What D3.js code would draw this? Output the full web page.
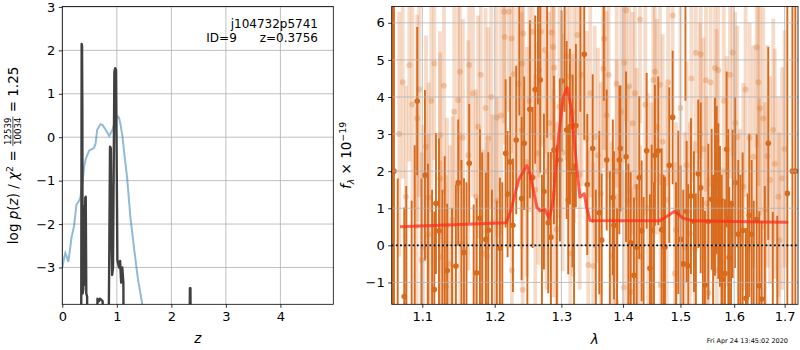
<!DOCTYPE html>
<html>
<head>
<meta charset="utf-8">
<script src="https://cdn.jsdelivr.net/npm/d3@7"></script>
<style>
  body { margin: 0; background: #fff; }
  text { font-family: "DejaVu Sans", sans-serif; }
</style>
</head>
<body>
<div id="chart"></div>
<script>
//==============================================================================
// left panel: log p(z) (dark) and scaled chi2 (blue)

const pz_z    = [0.30, 0.345, 0.355, 0.362, 0.368, 0.372, 0.385, 0.395, 0.405, 0.42, 0.43, 0.44, 0.455, 0.465,
                 0.63, 0.645, 0.67, 0.69, 0.72, 0.74, 0.76,
                 0.84, 0.86, 0.875, 0.89, 0.905, 0.915, 0.93, 0.955, 0.97, 0.985, 1.0, 1.01, 1.04, 1.06, 1.08, 1.10, 1.12, 1.13,
                 2.33, 2.34, 2.35, 2.36];
const pz_logp = [-6, -6, 2.15, 2.1, 0.6, -3.6, -3.5, -1.6, -3.4, -1.4, -1.37, -3.6, -3.67, -6,
                 -6, -3.72, -3.78, -3.72, -3.75, -3.78, -6,
                 -6, -2.94, -0.22, -0.25, -2.5, -3.17, -3.0, 1.5, 1.59, 1.55, -1.0, -2.83, -3.0, -2.85, -3.35, -3.0, -3.35, -6,
                 -6, -3.48, -3.48, -6];

const chi_z   = [0.0, 0.03, 0.055, 0.08, 0.11, 0.14, 0.17, 0.215, 0.26, 0.30, 0.33, 0.37, 0.40, 0.43, 0.49, 0.55, 0.58,
                 0.61, 0.64, 0.70, 0.74, 0.78, 0.82, 0.86, 0.92, 0.97, 1.01, 1.04, 1.07, 1.10, 1.13, 1.19, 1.25, 1.32,
                 1.39, 1.46, 1.50];
const chi_val = [-3.0, -2.8, -2.67, -2.75, -2.87, -2.6, -2.3, -2.05, -1.55, -1.48, -1.4, -1.05, -0.68, -0.5, -0.31, -0.27, -0.25,
                 -0.15, 0.17, 0.3, 0.28, 0.2, 0.12, 0.03, 0.17, 0.38, 0.49, 0.45, 0.28, 0.05, -0.3, -0.95, -1.85, -2.6,
                 -3.29, -3.79, -4.2];

const pz_xticks = [0, 1, 2, 3, 4];
const pz_yticks = [-3, -2, -1, 0, 1, 2, 3];

const obj_name = "j104732p5741";
const obj_id = 9;
const obj_z = "0.3756";

//==============================================================================
// right panel: spectrum, dark points (with markers) and light points

const dark_wave = [1.0615, 1.0632, 1.0680, 1.0764, 1.0790, 1.0860, 1.0900, 1.0933, 1.0990, 1.1035, 1.1075, 1.1130, 1.1160,
  1.1182, 1.1223, 1.1270, 1.1300, 1.1334, 1.1400, 1.1453, 1.1485, 1.1530, 1.1565, 1.1600, 1.1638, 1.1700, 1.1742, 1.1789,
  1.1820, 1.1874, 1.1907, 1.1960, 1.2030, 1.2075, 1.2110, 1.2158, 1.2187, 1.2225, 1.2265, 1.2314, 1.2360, 1.2394, 1.2432,
  1.2480, 1.2518, 1.2559, 1.2598, 1.2640, 1.2675, 1.2700, 1.2731, 1.2780, 1.2797, 1.2838, 1.2885, 1.2930, 1.2978, 1.3004,
  1.3050, 1.3083, 1.3108, 1.3135, 1.3177, 1.3200, 1.3229, 1.3300, 1.3363, 1.3411, 1.3499, 1.3550, 1.3606, 1.3645, 1.3680,
  1.3728, 1.3780, 1.3829, 1.3849, 1.3900, 1.3938, 1.3957, 1.4050, 1.4090, 1.4129, 1.4185, 1.4231, 1.4276, 1.4317, 1.4350,
  1.4403, 1.4460, 1.4490, 1.4530, 1.4547, 1.4605, 1.4665, 1.4700, 1.4723, 1.4800, 1.4860, 1.4920, 1.4961, 1.5003, 1.5051,
  1.5090, 1.5112, 1.5141, 1.5190, 1.5245, 1.5280, 1.5324, 1.5369, 1.5410, 1.5448, 1.5510, 1.5573, 1.5600, 1.5635, 1.5667,
  1.5698, 1.5729, 1.5760, 1.5780, 1.5824, 1.5856, 1.5887, 1.5906, 1.5940, 1.5971, 1.6015, 1.6079, 1.6120, 1.6164, 1.6228,
  1.6260, 1.6293, 1.6340, 1.6380, 1.6438, 1.6490, 1.6537, 1.6600, 1.6669, 1.6760, 1.6850, 1.7055, 1.7159, 1.7220];
const dark_flux = [2.0, 2.0, -2.4, -1.38, -2.0, -2.6, -1.9, 3.89, -2.2, 1.89, -2.8, -1.9, -1.19,
  1.13, 0.39, -2.3, -2.0, -0.68, -2.5, -0.56, 1.69, -1.8, -0.19, -2.6, 2.21, -2.2, -0.74, 0.73,
  -2.0, 0.16, 0.41, -2.4, -1.9, -0.08, -2.7, 2.48, 1.38, 2.25, 0.54, 2.84, 6.9, 1.26, 2.75,
  -2.1, 3.67, 1.83, 4.2, 7.0, 4.46, -2.3, 1.45, 6.8, 0.61, 0.22, 2.57, -2.0, 2.3, 4.43,
  7.2, 3.11, 1.22, 3.2, 2.0, -2.1, 3.23, 6.9, 5.15, 1.64, 2.61, -2.2, 0.88, 0.14, 6.8,
  2.3, -2.0, 1.29, 0.54, -2.5, 2.3, 2.61, 2.39, -2.1, 0.07, -0.81, -0.05, 1.83, 0.39, -2.6,
  2.55, -0.62, 0.41, -1.9, 2.43, 2.55, 0.42, -2.3, -0.05, 2.16, 3.45, -2.0, 0.89, 0.16, -0.5,
  6.7, 0.91, -0.55, 1.33, 0.64, -2.4, 1.93, 1.55, -2.1, -1.07, 0.64, 1.24, -2.6, 1.58, 1.76,
  1.19, 0.78, -2.0, -0.93, -0.76, 2.59, 0.73, -0.33, -2.3, 1.12, 1.69, 0.3, -2.2, 0.4, -1.43,
  -1.9, 0.81, 0.3, -2.5, 0.7, -1.09, -1.45, -2.0, 2.75, -2.1, -1.8, 1.4, 2.0, 2.0];
const dark_err = [30, 30, 4.2, 2.4, 3.6, 3.8, 4.6, 2.0, 4.0, 2.3, 5.0, 3.4, 2.1,
  1.9, 2.5, 3.8, 4.4, 1.8, 3.5, 2.2, 1.7, 4.1, 2.0, 4.3, 1.6, 3.3, 2.0, 2.4,
  4.5, 1.8, 2.1, 3.9, 3.1, 1.9, 4.4, 2.0, 1.7, 2.3, 1.8, 2.0, 3.4, 2.2, 1.8,
  4.1, 2.4, 1.9, 2.0, 3.2, 2.5, 4.2, 2.1, 3.9, 1.9, 2.3, 2.0, 4.7, 2.2, 1.9,
  3.6, 2.4, 2.0, 2.1, 2.6, 4.3, 2.2, 3.3, 2.3, 1.9, 2.0, 3.7, 2.2, 1.8, 2.9,
  1.9, 4.0, 2.1, 2.0, 3.5, 2.0, 1.7, 2.3, 4.3, 1.9, 2.1, 1.7, 2.2, 1.9, 3.9,
  2.1, 2.0, 2.3, 3.6, 1.9, 2.0, 2.2, 4.2, 1.9, 2.1, 1.8, 3.7, 2.2, 2.0, 2.0,
  2.8, 1.9, 2.2, 2.1, 1.9, 3.8, 2.0, 2.3, 3.4, 2.0, 2.1, 1.9, 4.5, 2.4, 2.0,
  2.1, 1.9, 3.9, 2.2, 2.0, 2.1, 2.4, 1.9, 3.5, 2.0, 2.3, 2.0, 4.1, 2.1, 1.9,
  3.3, 2.2, 2.0, 3.7, 2.3, 2.0, 2.1, 3.6, 2.6, 3.0, 2.6, 30, 30, 30];

const light_wave = [1.0700, 1.0745, 1.0786, 1.0829, 1.0870, 1.0925, 1.0933, 1.0960, 1.0991, 1.1012, 1.1049, 1.1080, 1.1085,
  1.1120, 1.1160, 1.1236, 1.1240, 1.1245, 1.1290, 1.1317, 1.1330, 1.1371, 1.1408, 1.1430, 1.1485, 1.1509, 1.1512, 1.1550,
  1.1624, 1.1638, 1.1690, 1.1732, 1.1763, 1.1800, 1.1836, 1.1869, 1.1892, 1.1907, 1.1950, 1.1970, 1.2028, 1.2030, 1.2090,
  1.2137, 1.2145, 1.2206, 1.2245, 1.2250, 1.2279, 1.2342, 1.2394, 1.2403, 1.2409, 1.2418, 1.2473, 1.2510, 1.2559, 1.2600,
  1.2644, 1.2659, 1.2685, 1.2746, 1.2772, 1.2810, 1.2849, 1.2873, 1.2880, 1.2889, 1.2927, 1.2968, 1.3020, 1.3083, 1.3135,
  1.3140, 1.3177, 1.3200, 1.3251, 1.3290, 1.3321, 1.3401, 1.3427, 1.3460, 1.3508, 1.3532, 1.3584, 1.3630, 1.3671, 1.3687,
  1.3728, 1.3760, 1.3812, 1.3882, 1.3893, 1.3895, 1.3970, 1.4014, 1.4019, 1.4048, 1.4080, 1.4103, 1.4134, 1.4162, 1.4200,
  1.4231, 1.4288, 1.4290, 1.4380, 1.4430, 1.4490, 1.4518, 1.4547, 1.4580, 1.4635, 1.4647, 1.4683, 1.4753, 1.4780, 1.4860,
  1.4900, 1.4920, 1.5000, 1.5081, 1.5112, 1.5172, 1.5200, 1.5262, 1.5280, 1.5356, 1.5369, 1.5420, 1.5467, 1.5480, 1.5510,
  1.5554, 1.5635, 1.5667, 1.5670, 1.5698, 1.5761, 1.5800, 1.5856, 1.5920, 1.5971, 1.6020, 1.6059, 1.6111, 1.6176, 1.6220,
  1.6300, 1.6371, 1.6438, 1.6470, 1.6491, 1.6503, 1.6569, 1.6602, 1.6650, 1.6702, 1.6769, 1.6800, 1.6871, 1.6890, 1.6950,
  1.7000];
const light_flux = [3.0, 4.4, 1.31, 4.86, 3.8, 0.52, 3.42, 4.2, -0.4, -0.05, 2.66, 0.3, 1.29,
  3.9, 4.9, 2.97, 1.8, -0.31, 4.3, -1.11, 0.54, -0.5, 0.68, 3.6, 3.92, 4.68, 0.05, 2.9,
  2.43, 4.86, 4.1, 1.31, 3.2, 4.6, -0.22, 3.7, -0.3, 2.88, 4.0, 0.63, 3.44, 1.2, 3.5,
  6.3, 5.62, 6.3, 5.58, -0.67, 4.62, 4.36, 3.1, 4.9, -1.2, 5.71, 2.25, 3.9, 5.76, 1.5,
  2.48, 4.73, 5.76, 5.27, 2.0, 3.3, 5.74, 5.35, 1.4, 4.79, 0.43, 3.74, 2.5, 5.1, 4.55,
  -0.22, 2.16, 3.6, 5.67, 1.9, 4.6, 2.88, -0.53, 4.1, -0.56, 2.92, 2.43, 1.4, 4.77, 5.57,
  3.51, 4.6, -0.3, -1.52, 4.36, 2.0, 3.6, -1.13, 4.92, 6.34, 1.2, 4.29, -1.25, 3.29, 4.1,
  1.58, 6.09, -0.31, 3.8, 1.0, 0.95, 4.46, 4.68, 3.2, 4.33, -1.07, 2.79, 1.23, 4.4, 6.2,
  -0.76, 0.42, 3.7, -0.05, 2.16, 0.32, 4.5, -0.1, 5.19, 3.0, 5.15, 2.6, 4.45, 1.13, -1.28,
  4.39, 4.78, 2.83, -0.67, 4.72, -0.9, 3.9, 2.0, 4.6, 5.2, 3.3, 2.92, 0.23, 1.58, 4.2,
  2.9, 2.39, 5.34, 4.4, 0.86, 3.69, 3.42, 0.96, 2.4, 1.76, 3.11, 2.2, 1.31, 0.14, 1.8,
  2.6];
const light_err = [3.3, 2.6, 3.0, 2.6, 2.8, 3.2, 2.8, 2.9, 2.9, 3.3, 3.0, 2.7, 3.1,
  3.0, 2.6, 2.8, 3.4, 2.6, 2.9, 3.0, 2.9, 3.2, 2.8, 3.1, 2.5, 2.7, 3.0, 3.2,
  3.1, 2.6, 2.8, 2.9, 3.0, 2.7, 2.8, 2.7, 3.1, 3.0, 3.0, 2.9, 3.2, 2.8, 3.2,
  3.0, 2.9, 2.7, 3.1, 2.8, 3.0, 2.8, 3.2, 2.9, 3.0, 2.6, 3.1, 3.0, 2.8, 3.1,
  3.0, 2.9, 3.1, 2.8, 3.2, 3.0, 2.9, 3.0, 2.8, 3.1, 2.9, 3.0, 3.2, 2.8, 3.1,
  2.9, 3.0, 3.0, 2.7, 3.1, 3.0, 2.9, 3.1, 2.8, 2.8, 3.0, 2.9, 3.0, 2.7, 3.0,
  2.8, 2.8, 3.1, 2.9, 2.8, 3.0, 3.0, 3.1, 2.7, 3.0, 3.1, 2.9, 2.8, 3.0, 2.9,
  3.2, 2.8, 3.0, 3.0, 3.1, 2.9, 2.8, 3.0, 2.9, 2.7, 3.0, 2.9, 3.1, 2.8, 2.8,
  3.0, 2.9, 3.0, 3.1, 2.8, 3.0, 2.8, 2.9, 2.7, 3.0, 2.8, 3.0, 3.0, 2.9, 3.1,
  2.8, 2.9, 3.0, 2.8, 2.7, 3.0, 2.9, 3.1, 2.8, 2.8, 3.0, 3.0, 2.9, 2.8, 2.9,
  3.1, 3.0, 2.7, 2.8, 3.1, 2.8, 3.0, 2.9, 3.0, 2.8, 3.0, 3.1, 2.7, 2.9, 3.0,
  3.2];

// template fit
const model_wave = [1.0709, 1.15, 1.2169, 1.2244, 1.2348, 1.2473, 1.2518, 1.2622, 1.2670, 1.2746, 1.2813, 1.2873, 1.2952,
  1.3030, 1.3093, 1.3160, 1.3241, 1.3294, 1.3363, 1.3401, 1.3454, 1.4635, 1.4774, 1.4887, 1.4940, 1.5052, 1.5225, 1.7075];
const model_flux = [0.5, 0.56, 0.61, 1.0, 1.76, 2.15, 1.94, 1.04, 0.93, 0.96, 0.72, 1.22, 2.84,
  4.0, 4.25, 3.65, 2.13, 1.3, 1.39, 1.03, 0.67, 0.66, 0.8, 0.91, 0.86, 0.73, 0.66, 0.62];

const spec_xticks = [1.1, 1.2, 1.3, 1.4, 1.5, 1.6, 1.7];
const spec_yticks = [-1, 0, 1, 2, 3, 4, 5, 6];

const timestamp = "Fri Apr 24 13:45:02 2020";

//==============================================================================

const width = 800, height = 350;
const fontTick = 13, fontLabel = 13.5;
const orange = "#d86a1c";

const L = {x0: 62.3, x1: 333.3, y0: 6.5, y1: 304.3};
const R = {x0: 391.7, x1: 798, y0: 6.5, y1: 304.3};

const svg = d3.select("#chart").append("svg")
    .attr("width", width)
    .attr("height", height);

svg.append("rect").attr("width", width).attr("height", height).attr("fill", "white");

const defs = svg.append("defs");
function clip(id, b) {
  defs.append("clipPath").attr("id", id).append("rect")
    .attr("x", b.x0).attr("y", b.y0).attr("width", b.x1 - b.x0).attr("height", b.y1 - b.y0);
  return `url(#${id})`;
}

function grid(b, x, y, xt, yt) {
  const g = svg.append("g").attr("stroke", "#b0b0b0").attr("stroke-width", 0.8);
  g.selectAll(".gx").data(xt).join("line")
    .attr("x1", d => x(d)).attr("x2", d => x(d)).attr("y1", b.y0).attr("y2", b.y1);
  g.selectAll(".gy").data(yt).join("line")
    .attr("x1", b.x0).attr("x2", b.x1).attr("y1", d => y(d)).attr("y2", d => y(d));
}

function axes(b, x, y, xt, yt, xfmt) {
  const ax = svg.append("g").attr("transform", `translate(0,${b.y1})`)
    .call(d3.axisBottom(x).tickValues(xt).tickSize(3.5).tickPadding(3.5).tickFormat(xfmt));
  const ay = svg.append("g").attr("transform", `translate(${b.x0},0)`)
    .call(d3.axisLeft(y).tickValues(yt).tickSize(3.5).tickPadding(3.5).tickFormat(d3.format("d")));
  [ax, ay].forEach(a => {
    a.select(".domain").remove();
    a.selectAll("line").attr("stroke", "black").attr("stroke-width", 0.8);
    a.selectAll("text").attr("font-size", fontTick).attr("fill", "black")
      .attr("font-family", "DejaVu Sans");
  });
  svg.append("rect")
    .attr("x", b.x0).attr("y", b.y0).attr("width", b.x1 - b.x0).attr("height", b.y1 - b.y0)
    .attr("fill", "none").attr("stroke", "black").attr("stroke-width", 0.8);
}

//==============================================================================
// left panel

const zx = d3.scaleLinear([0, 4.97], [L.x0, L.x1]);
const py = d3.scaleLinear([-3.848, 3.01], [L.y1, L.y0]);
const clipL = clip("clipL", L);

grid(L, zx, py, pz_xticks, pz_yticks);

svg.append("path")
    .attr("clip-path", clipL)
    .attr("d", d3.line().x(d => zx(d[0])).y(d => py(d[1]))(d3.zip(chi_z, chi_val)))
    .attr("fill", "none")
    .attr("stroke", "#1f77b4")
    .attr("stroke-opacity", 0.5)
    .attr("stroke-width", 2);

svg.append("path")
    .attr("clip-path", clipL)
    .attr("d", d3.line().x(d => zx(d[0])).y(d => py(d[1]))(d3.zip(pz_z, pz_logp)))
    .attr("fill", "none")
    .attr("stroke", "#404040")
    .attr("stroke-width", 2.4)
    .attr("stroke-linejoin", "round");

axes(L, zx, py, pz_xticks, pz_yticks, d3.format("d"));

svg.append("text")
    .attr("x", 318).attr("y", 28)
    .attr("text-anchor", "end").attr("font-size", 12)
    .text(obj_name);
svg.append("text")
    .attr("x", 318).attr("y", 42)
    .attr("text-anchor", "end").attr("font-size", 12)
    .attr("xml:space", "preserve")
    .text(`ID=${obj_id}      z=${obj_z}`);

svg.append("text")
    .attr("x", (L.x0 + L.x1) / 2).attr("y", 343)
    .attr("text-anchor", "middle").attr("font-size", fontLabel).attr("font-style", "italic")
    .text("z");

// y label: log p(z) / chi2 = 12539/10034 = 1.25
function leftYLabel() {
  const outer = svg.append("g")
      .attr("transform", `translate(18.3,${(L.y0 + L.y1) / 2}) rotate(-90)`);
  const g = outer.append("g");
  const t1 = g.append("text").attr("font-size", fontLabel).attr("xml:space", "preserve");
  t1.append("tspan").text("log ");
  t1.append("tspan").attr("font-style", "italic").text("p");
  t1.append("tspan").text("(");
  t1.append("tspan").attr("font-style", "italic").text("z");
  t1.append("tspan").text(") / ");
  t1.append("tspan").attr("font-style", "italic").text("χ");
  t1.append("tspan").attr("font-size", fontLabel * 0.7).attr("dy", -5.5).text("2");
  t1.append("tspan").attr("dy", 5.5).text(" = ");
  const w1 = t1.node().getComputedTextLength();

  const num = g.append("text").attr("font-size", 8.6).attr("text-anchor", "middle").attr("y", -7.8).text("12539");
  const den = g.append("text").attr("font-size", 8.6).attr("text-anchor", "middle").attr("y", 2.6).text("10034");
  const wf = Math.max(num.node().getComputedTextLength(), den.node().getComputedTextLength()) + 2;
  num.attr("x", w1 + wf / 2);
  den.attr("x", w1 + wf / 2);
  g.append("line")
    .attr("x1", w1).attr("x2", w1 + wf).attr("y1", -5.4).attr("y2", -5.4)
    .attr("stroke", "black").attr("stroke-width", 0.7);

  const t3 = g.append("text").attr("font-size", fontLabel).attr("x", w1 + wf)
    .attr("xml:space", "preserve").text(" = 1.25");
  const total = w1 + wf + t3.node().getComputedTextLength();
  g.attr("transform", `translate(${-total / 2},0)`);
}
leftYLabel();

//==============================================================================
// right panel

const lx = d3.scaleLog([1.0603, 1.7275], [R.x0, R.x1]);
const fy = d3.scaleLinear([-1.59, 6.44], [R.y1, R.y0]);
const clipR = clip("clipR", R);

const light = d3.zip(light_wave, light_flux, light_err);
const dark = d3.zip(dark_wave, dark_flux, dark_err);

const lightG = svg.append("g").attr("clip-path", clipR);
lightG.append("g")
    .attr("stroke", orange).attr("stroke-opacity", 0.24).attr("stroke-width", 3.8)
  .selectAll("line").data(light).join("line")
    .attr("x1", d => lx(d[0])).attr("x2", d => lx(d[0]))
    .attr("y1", d => fy(d[1] - d[2])).attr("y2", d => fy(d[1] + d[2]));
lightG.append("g")
    .attr("fill", orange).attr("fill-opacity", 0.28)
  .selectAll("circle").data(light).join("circle")
    .attr("cx", d => lx(d[0])).attr("cy", d => fy(d[1])).attr("r", 3);

const darkG = svg.append("g").attr("clip-path", clipR);
darkG.append("g")
    .attr("stroke", orange).attr("stroke-width", 1.9)
  .selectAll("line").data(dark).join("line")
    .attr("x1", d => lx(d[0])).attr("x2", d => lx(d[0]))
    .attr("y1", d => fy(d[1] - d[2])).attr("y2", d => fy(d[1] + d[2]));
darkG.append("g")
    .attr("fill", orange)
  .selectAll("circle").data(dark).join("circle")
    .attr("cx", d => lx(d[0])).attr("cy", d => fy(d[1])).attr("r", 2.8);

grid(R, lx, fy, spec_xticks, spec_yticks);

svg.append("path")
    .attr("clip-path", clipR)
    .attr("d", d3.line().x(d => lx(d[0])).y(d => fy(d[1]))(d3.zip(model_wave, model_flux)))
    .attr("fill", "none")
    .attr("stroke", "#ff2a1a")
    .attr("stroke-opacity", 0.72)
    .attr("stroke-width", 3)
    .attr("stroke-linejoin", "round");

svg.append("line")
    .attr("x1", R.x0).attr("x2", R.x1).attr("y1", fy(0)).attr("y2", fy(0))
    .attr("stroke", "black").attr("stroke-width", 1.6)
    .attr("stroke-dasharray", "1.8,2.4");

axes(R, lx, fy, spec_xticks, spec_yticks, d3.format(".1f"));

svg.append("text")
    .attr("x", (R.x0 + R.x1) / 2).attr("y", 344)
    .attr("text-anchor", "middle").attr("font-size", fontLabel).attr("font-style", "italic")
    .text("λ");

const ry = svg.append("text")
    .attr("transform", `translate(351,${(R.y0 + R.y1) / 2}) rotate(-90)`)
    .attr("text-anchor", "middle").attr("font-size", fontLabel);
ry.append("tspan").attr("font-style", "italic").text("f");
ry.append("tspan").attr("font-style", "italic").attr("font-size", fontLabel * 0.7).attr("dy", 3).text("λ");
ry.append("tspan").attr("dy", -3).text(" × 10");
ry.append("tspan").attr("font-size", fontLabel * 0.7).attr("dy", -5.5).text("−19");

svg.append("text")
    .attr("x", 788).attr("y", 342.5)
    .attr("text-anchor", "end").attr("font-size", 6.5)
    .text(timestamp);
</script>
</body>
</html>
